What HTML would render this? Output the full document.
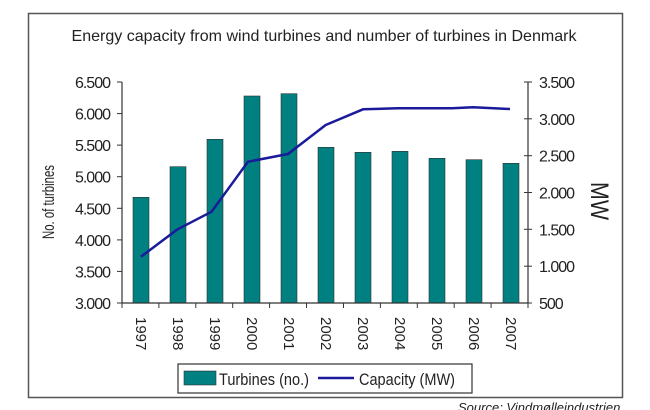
<!DOCTYPE html>
<html><head><meta charset="utf-8"><style>
html,body{margin:0;padding:0;background:#fff;overflow:hidden;}
svg{display:block;font-family:"Liberation Sans",sans-serif;}
</style></head><body>
<svg width="650" height="410" viewBox="0 0 650 410">
<rect x="28.5" y="13.5" width="594" height="384" fill="#fff" stroke="#555" stroke-width="1.5"/>
<text x="324" y="41" text-anchor="middle" font-size="16" fill="#222" textLength="505" lengthAdjust="spacingAndGlyphs">Energy capacity from wind turbines and number of turbines in Denmark</text>
<g fill="#008080" stroke="#333" stroke-width="0.6">
<rect x="133" y="197.3" width="16" height="105.7"/>
<rect x="170" y="166.7" width="16" height="136.3"/>
<rect x="207" y="139.3" width="16" height="163.7"/>
<rect x="244" y="96" width="16" height="207"/>
<rect x="281" y="93.7" width="16" height="209.3"/>
<rect x="318" y="147.3" width="16" height="155.7"/>
<rect x="355" y="152.3" width="16" height="150.7"/>
<rect x="392" y="151.3" width="16" height="151.7"/>
<rect x="429" y="158.3" width="16" height="144.7"/>
<rect x="466" y="159.7" width="16" height="143.3"/>
<rect x="503" y="163.3" width="16" height="139.7"/>
</g>
<g stroke="#333" stroke-width="1.2" fill="none">
<line x1="122" y1="82" x2="122" y2="303"/>
<line x1="528" y1="82" x2="528" y2="303"/>
<line x1="122" y1="303" x2="528" y2="303"/>
</g>
<g stroke="#333" stroke-width="1">
<line x1="117" y1="82" x2="122" y2="82"/><line x1="117" y1="113.6" x2="122" y2="113.6"/>
<line x1="117" y1="145.1" x2="122" y2="145.1"/><line x1="117" y1="176.7" x2="122" y2="176.7"/>
<line x1="117" y1="208.3" x2="122" y2="208.3"/><line x1="117" y1="239.9" x2="122" y2="239.9"/>
<line x1="117" y1="271.4" x2="122" y2="271.4"/><line x1="117" y1="303" x2="122" y2="303"/>
<line x1="524" y1="82" x2="532" y2="82"/><line x1="524" y1="118.8" x2="532" y2="118.8"/>
<line x1="524" y1="155.7" x2="532" y2="155.7"/><line x1="524" y1="192.5" x2="532" y2="192.5"/>
<line x1="524" y1="229.3" x2="532" y2="229.3"/><line x1="524" y1="266.2" x2="532" y2="266.2"/>
<line x1="524" y1="303" x2="532" y2="303"/>
<line x1="122" y1="303" x2="122" y2="308"/><line x1="158.9" y1="303" x2="158.9" y2="308"/>
<line x1="195.8" y1="303" x2="195.8" y2="308"/><line x1="232.7" y1="303" x2="232.7" y2="308"/>
<line x1="269.6" y1="303" x2="269.6" y2="308"/><line x1="306.5" y1="303" x2="306.5" y2="308"/>
<line x1="343.5" y1="303" x2="343.5" y2="308"/><line x1="380.4" y1="303" x2="380.4" y2="308"/>
<line x1="417.3" y1="303" x2="417.3" y2="308"/><line x1="454.2" y1="303" x2="454.2" y2="308"/>
<line x1="491.1" y1="303" x2="491.1" y2="308"/><line x1="528" y1="303" x2="528" y2="308"/>
</g>
<g font-size="16" fill="#222" text-anchor="end" letter-spacing="-1">
<text x="110" y="88">6.500</text><text x="110" y="119.6">6.000</text><text x="110" y="151.1">5.500</text>
<text x="110" y="182.7">5.000</text><text x="110" y="214.3">4.500</text><text x="110" y="245.9">4.000</text>
<text x="110" y="277.4">3.500</text><text x="110" y="309">3.000</text>
</g>
<g font-size="16" fill="#222" letter-spacing="-1">
<text x="539" y="88">3.500</text><text x="539" y="124.8">3.000</text><text x="539" y="161.7">2.500</text>
<text x="539" y="198.5">2.000</text><text x="539" y="235.3">1.500</text><text x="539" y="272.2">1.000</text>
<text x="539" y="309">500</text>
</g>
<text transform="translate(54,202) rotate(-90)" text-anchor="middle" font-size="17" fill="#222" textLength="74" lengthAdjust="spacingAndGlyphs">No. of turbines</text>
<text transform="translate(591,201) rotate(90)" text-anchor="middle" font-size="25" fill="#222" textLength="38" lengthAdjust="spacingAndGlyphs">MW</text>
<g font-size="15" fill="#222">
<text transform="translate(136,317) rotate(90)">1997</text>
<text transform="translate(173,317) rotate(90)">1998</text>
<text transform="translate(210,317) rotate(90)">1999</text>
<text transform="translate(247,317) rotate(90)">2000</text>
<text transform="translate(284,317) rotate(90)">2001</text>
<text transform="translate(321,317) rotate(90)">2002</text>
<text transform="translate(358,317) rotate(90)">2003</text>
<text transform="translate(395,317) rotate(90)">2004</text>
<text transform="translate(432,317) rotate(90)">2005</text>
<text transform="translate(469,317) rotate(90)">2006</text>
<text transform="translate(506,317) rotate(90)">2007</text>
</g>
<polyline fill="none" stroke="#1a1a9a" stroke-width="2.5" stroke-linejoin="round"
points="141,256.7 177.6,229.3 211.6,211.7 248,161.7 288,154 325.7,125 363,109.3 398,108.3 452,108.3 473,107.3 510,109"/>
<rect x="178" y="364" width="294" height="29" fill="#fff" stroke="#333" stroke-width="1.2"/>
<rect x="184" y="371" width="32" height="14" fill="#008080" stroke="#333" stroke-width="0.6"/>
<text x="219" y="385" font-size="17" fill="#222" textLength="90" lengthAdjust="spacingAndGlyphs">Turbines (no.)</text>
<line x1="318" y1="378" x2="354" y2="378" stroke="#1a1a9a" stroke-width="2.5"/>
<text x="359" y="385" font-size="17" fill="#222" textLength="96" lengthAdjust="spacingAndGlyphs">Capacity (MW)</text>
<text x="458" y="412" font-size="13" font-style="italic" fill="#222">Source: Vindmølleindustrien</text>
</svg>
</body></html>
